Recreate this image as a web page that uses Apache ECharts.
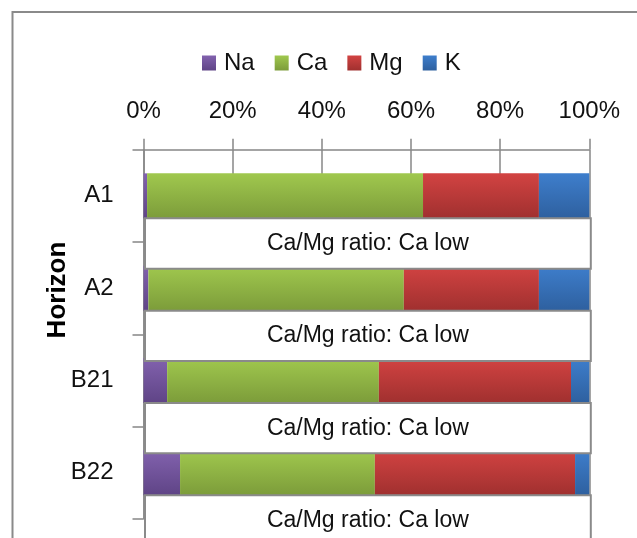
<!DOCTYPE html>
<html>
<head>
<meta charset="utf-8">
<script src="https://cdn.jsdelivr.net/npm/echarts@6/dist/echarts.min.js"></script>
<style>
  html, body { margin: 0; padding: 0; background: #ffffff; }
  #chart { width: 637px; height: 538px; }
</style>
</head>
<body>
<div id="chart"></div>
<script>
// Exchangeable cation shares (% of total) per soil horizon
const categories = ['A1', 'A2', 'B21', 'B22'];
const naValues = [0.8, 1.1, 5.3, 8.2];
const caValues = [61.9, 57.3, 47.5, 43.7];
const mgValues = [26.0, 30.3, 43.1, 44.9];
const kValues = [11.3, 11.3, 4.1, 3.2];
const seriesNames = ['Na', 'Ca', 'Mg', 'K'];
const xTickValues = [0, 20, 40, 60, 80, 100];
const noteTexts = ['Ca/Mg ratio: Ca low', 'Ca/Mg ratio: Ca low', 'Ca/Mg ratio: Ca low', 'Ca/Mg ratio: Ca low'];
const axisTitle = 'Horizon';

const BAR_WIDTH = 45;
const FONT = '"Liberation Sans", Arial, sans-serif';

function shade(top, bottom) {
  return new echarts.graphic.LinearGradient(0, 0, 0, 1, [
    { offset: 0, color: top },
    { offset: 1, color: bottom }
  ]);
}

const fills = [
  shade('#8262AE', '#5F4486'),
  shade('#A0C84E', '#7C9C3A'),
  shade('#D24342', '#A0302F'),
  shade('#3E7ECC', '#2E609F')
];

const valueSets = [naValues, caValues, mgValues, kValues];

const barSeries = seriesNames.map((name, i) => ({
  name: name,
  type: 'bar',
  stack: 'total',
  barWidth: BAR_WIDTH,
  itemStyle: { color: fills[i] },
  emphasis: { disabled: true },
  data: valueSets[i],
  z: 2
}));

// Annotation box drawn under each horizon's bar, spanning the full axis
const noteSeries = {
  name: 'notes',
  type: 'custom',
  coordinateSystem: 'cartesian2d',
  clip: false,
  z: 5,
  silent: true,
  encode: { x: 0, y: 1 },
  data: categories.map((c, i) => [0, i]),
  renderItem: function (params, api) {
    const idx = api.value(1);
    const p0 = api.coord([xTickValues[0], idx]);
    const p1 = api.coord([xTickValues[xTickValues.length - 1], idx]);
    const band = api.size([0, 1])[1];
    const x = p0[0] + 1.5;
    const y = p0[1] + BAR_WIDTH / 2;
    const w = p1[0] - p0[0];
    const h = band - BAR_WIDTH + 3;
    return {
      type: 'group',
      children: [
        {
          type: 'rect',
          shape: { x: x, y: y, width: w, height: h },
          style: { fill: '#ffffff', stroke: '#8a8a8a', lineWidth: 2 }
        },
        {
          type: 'text',
          style: {
            text: noteTexts[idx],
            x: x + w / 2,
            y: y + h / 2,
            align: 'center',
            verticalAlign: 'middle',
            fontFamily: FONT,
            fontSize: 23,
            fill: '#111111'
          }
        }
      ]
    };
  }
};

const chart = echarts.init(document.getElementById('chart'), null, { renderer: 'canvas' });

chart.setOption({
  backgroundColor: '#ffffff',
  animation: false,
  graphic: [
    {
      // chart frame
      type: 'rect',
      shape: { x: 12.5, y: 12, width: 700, height: 600 },
      style: { fill: 'none', stroke: '#8a8a8a', lineWidth: 2 },
      silent: true,
      z: 0
    },
    {
      // vertical axis title
      type: 'text',
      x: 58,
      y: 290,
      rotation: Math.PI / 2,
      silent: true,
      style: {
        text: axisTitle,
        align: 'center',
        verticalAlign: 'middle',
        fontFamily: FONT,
        fontSize: 26,
        fontWeight: 'bold',
        fill: '#000000'
      }
    }
  ],
  legend: {
    data: seriesNames,
    left: 197,
    top: 46,
    icon: 'rect',
    itemWidth: 14,
    itemHeight: 15,
    itemGap: 20,
    textStyle: {
      fontFamily: FONT,
      fontSize: 24,
      lineHeight: 24,
      color: '#111111',
      padding: [0, 0, 0, 3]
    },
    selectedMode: false
  },
  grid: {
    left: 143.5,
    right: 47.7,
    top: 149.7,
    bottom: 19,
    outerBoundsMode: 'none'
  },
  xAxis: {
    type: 'value',
    position: 'top',
    min: xTickValues[0],
    max: xTickValues[xTickValues.length - 1],
    interval: xTickValues[1] - xTickValues[0],
    axisLine: { show: true, lineStyle: { color: '#878787', width: 1.5 } },
    axisTick: { show: true, length: 11, lineStyle: { color: '#878787', width: 1.5 } },
    splitLine: { show: true, lineStyle: { color: '#878787', width: 1.5 } },
    axisLabel: {
      formatter: '{value}%',
      fontFamily: FONT,
      fontSize: 24,
      lineHeight: 24,
      color: '#111111',
      margin: 26
    }
  },
  yAxis: {
    type: 'category',
    inverse: true,
    data: categories,
    axisLine: { show: true, lineStyle: { color: '#878787', width: 1.5 } },
    axisTick: { show: true, length: 11, lineStyle: { color: '#878787', width: 1.5 } },
    axisLabel: {
      fontFamily: FONT,
      fontSize: 24,
      color: '#111111',
      margin: 30
    }
  },
  series: barSeries.concat([noteSeries])
});
</script>
</body>
</html>
